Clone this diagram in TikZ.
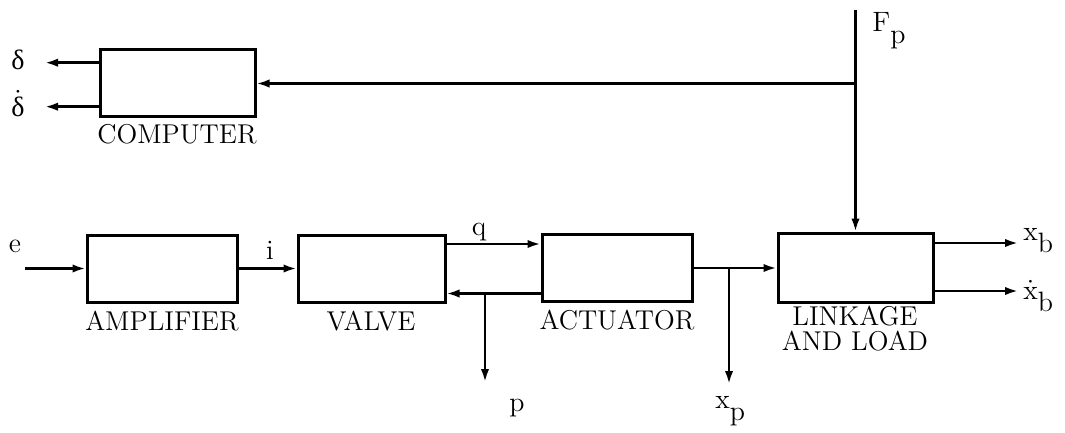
\documentclass[tikz,border=0pt]{standalone}
\usepackage{fontspec}
\newfontfamily\grk{Liberation Serif}
\usetikzlibrary{arrows.meta}
\newcommand{\lowsub}[2]{#1\raisebox{-6pt}[0pt][0pt]{#2}}
\begin{document}
\begin{tikzpicture}[x=0.5pt,y=-0.5pt,
  blk/.style={draw,line width=1.5pt,minimum width=75pt,minimum height=33.5pt,inner sep=0pt},
  sig/.style={line width=1.2pt,-{Latex[length=6.5pt,width=4.2pt]}},
  txt/.style={font=\fontsize{13.6}{15}\selectfont,inner sep=0pt},
  lbl/.style={font=\fontsize{14}{15}\selectfont,inner sep=0pt}]
\useasboundingbox (0,0) rectangle (1065,433);
% blocks
\node[blk,minimum width=77.5pt,minimum height=33.5pt] (comp) at (177.5,83.5) {};
\node[txt] (compL) at (177,134) {COMPUTER};
\node[blk] (amp) at (162,268.5) {};
\node[txt] (ampL) at (162,321) {AMPLIFIER};
\node[blk,minimum width=73.5pt] (valve) at (371.5,268.5) {};
\node[txt] (valveL) at (371,321) {VALVE};
\node[blk] (act) at (617,268) {};
\node[txt] (actL) at (617,320) {ACTUATOR};
\node[blk,minimum width=77.5pt,minimum height=34.5pt] (link) at (855.5,267.5) {};
\node[txt,align=center,font=\fontsize{13.6}{12.5}\selectfont] (linkL) at (855,329) {LINKAGE\\AND LOAD};
% input e
\coordinate (eS) at (25,268.5);
\draw[sig] (eS) -- (amp.west);
\node[lbl] (eL) at (15,246) {e};
% amp -> valve
\draw[sig] (amp.east) -- (valve.west);
\node[lbl] (iL) at (270,250) {i};
% q
\coordinate (q1) at ([yshift=12.25pt]valve.east);
\draw[sig] (q1) -- (q1 -| act.west);
\node[lbl] (qL) at (479,232) {q};
% return
\coordinate (r1) at ([yshift=-12.75pt]act.west);
\draw[sig] (r1) -- (r1 -| valve.east);
\path (r1 -| 485,0) coordinate (pj);
\coordinate (pE) at (485,382);
\draw[sig] (pj) -- (pE);
\node[lbl] (pL) at (517,408) {p};
% actuator -> linkage
\draw[sig] (act.east) -- (act.east -| link.west);
\coordinate (xj) at (729,268);
\coordinate (xE) at (729,384);
\draw[sig] (xj) -- (xE);
\node[lbl,anchor=base west] (xpL) at (715,408) {\lowsub{x}{p}};
% F_p
\path (link.north |- 0,10) coordinate (fT);
\draw[sig] (fT) -- (link.north);
\node[lbl,anchor=base west] (fL) at (872,32) {\lowsub{F}{p}};
\path (fT |- comp.east) coordinate (fj);
\draw[sig] (fj) -- (comp.east);
% computer outputs
\coordinate (c1) at ([yshift=10.4pt]comp.west);
\coordinate (c1E) at (45,0 |- c1);
\draw[sig] (c1) -- (c1E);
\coordinate (c2) at ([yshift=-11.6pt]comp.west);
\coordinate (c2E) at (45,0 |- c2);
\draw[sig] (c2) -- (c2E);
\node[lbl,anchor=base] (d1) at (18,70) {\grk δ};
\node[lbl,anchor=base] (d2) at (18,117) {$\dot{\hbox{\grk δ}}$};
% linkage outputs
\coordinate (o1) at ([yshift=12.25pt]link.east);
\coordinate (o1E) at (1018,0 |- o1);
\draw[sig] (o1) -- (o1E);
\coordinate (o2) at ([yshift=-11.75pt]link.east);
\coordinate (o2E) at (1018,0 |- o2);
\draw[sig] (o2) -- (o2E);
\node[lbl,anchor=base west] (xbL) at (1023,240) {\lowsub{x}{b}};
\node[lbl,anchor=base west] (xbdL) at (1023,299) {\lowsub{$\dot{\mathrm{x}}$}{b}};
\end{tikzpicture}
\end{document}
